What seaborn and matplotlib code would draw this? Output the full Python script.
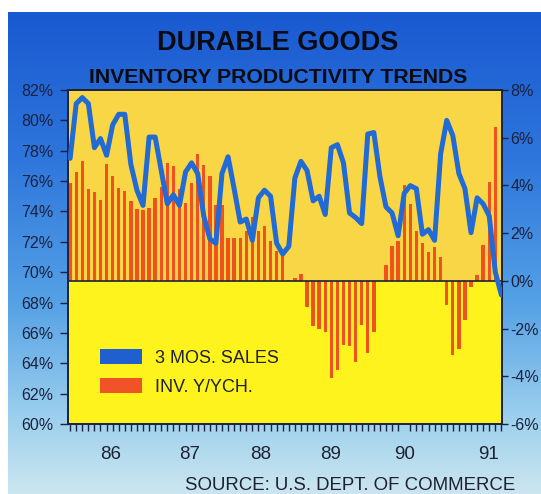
import numpy as np
import pandas as pd
import matplotlib
matplotlib.use("Agg")
import matplotlib.pyplot as plt
from matplotlib.patches import Patch
import seaborn as sns

# ---------------- data ----------------
months = list(range(72))
inv_yoy = [4.09, 4.55, 5.04, 3.87, 3.73, 3.39, 4.91, 4.39, 3.88, 3.75,
           3.33, 3.03, 2.95, 3.05, 3.48, 3.94, 4.95, 4.83, 3.85, 3.26,
           4.09, 5.32, 4.85, 4.38, 3.18, 3.17, 1.80, 1.80, 1.80, 2.10,
           2.69, 2.09, 2.30, 1.69, 1.27, 1.10, 0.05, 0.10, 0.28, -1.08,
           -1.91, -2.01, -2.13, -4.07, -3.73, -2.69, -2.72, -3.42, -1.86, -3.04,
           -2.15, 0.00, 0.68, 1.45, 1.66, 4.00, 3.21, 2.08, 1.58, 1.23,
           1.43, 0.98, -1.00, -3.10, -2.85, -1.63, -0.24, 0.24, 1.49, 4.15,
           6.45]
sales_3mo = [77.5, 81.1, 81.5, 81.1, 78.2, 78.8, 77.7, 79.7, 80.4, 80.4,
             77.1, 75.4, 74.4, 78.9, 78.9, 76.7, 74.5, 75.1, 74.4, 76.6,
             77.2, 76.5, 73.7, 72.2, 71.9, 76.5, 77.6, 75.5, 73.3, 73.5,
             72.1, 74.9, 75.4, 75.0, 71.9, 71.2, 71.7, 76.2, 77.3, 76.7,
             74.7, 75.0, 73.8, 78.2, 78.4, 77.2, 73.9, 73.6, 73.2, 79.1,
             79.2, 76.3, 74.3, 73.9, 72.4, 75.2, 75.7, 75.5, 72.5, 72.8,
             72.1, 77.8, 80.0, 79.0, 76.5, 75.5, 72.6, 74.9, 74.5, 73.7,
             70.0, 68.5]
left_ticks = [60, 62, 64, 66, 68, 70, 72, 74, 76, 78, 80, 82]
left_labels = ["60%", "62%", "64%", "66%", "68%", "70%", "72%", "74%",
               "76%", "78%", "80%", "82%"]
right_ticks = [-6, -4, -2, 0, 2, 4, 6, 8]
right_labels = ["-6%", "-4%", "-2%", "0%", "2%", "4%", "6%", "8%"]
year_pos = [6.7, 19.6, 31.4, 42.9, 55.0, 68.8]
year_labels = ["86", "87", "88", "89", "90", "91"]
title = "DURABLE GOODS"
subtitle = "INVENTORY PRODUCTIVITY TRENDS"
source = "SOURCE: U.S. DEPT. OF COMMERCE"
legend_labels = ["3 MOS. SALES", "INV. Y/YCH."]

bars_df = pd.DataFrame({"month": months[:len(inv_yoy)], "inv": inv_yoy})
line_df = pd.DataFrame({"month": months, "sales": sales_3mo})

# ---------------- style ----------------
sns.set_theme(style="white")
plt.rcParams["font.family"] = ["Liberation Sans", "DejaVu Sans"]

BLUE_LINE = "#226ad4"
RED_BAR = "#f0521e"
GOLD = "#f9d645"
LEMON = "#fff31e"
DARK = "#1b2140"

W, H = 541, 494
fig = plt.figure(figsize=(W / 100, H / 100), dpi=100)
fig.patch.set_facecolor("white")

# gradient panel
bg = fig.add_axes([8 / W, 0, 1 - 8 / W, 1 - 12 / H], zorder=-10)
stops_y = np.array([0.0, 0.3, 0.6, 0.85, 1.0])
stops_c = np.array([[0.10, 0.35, 0.82],
                    [0.18, 0.46, 0.86],
                    [0.33, 0.63, 0.90],
                    [0.62, 0.82, 0.93],
                    [0.80, 0.90, 0.94]])
t = np.linspace(0, 1, 300)
grad = np.stack([np.interp(t, stops_y, stops_c[:, k]) for k in range(3)], axis=-1)
bg.imshow(grad[:, None, :], aspect="auto", extent=[0, 1, 0, 1], origin="upper")
bg.set_axis_off()

# main axes (bars, right scale)
ax_l, ax_r = 68 / W, 502 / W
ax_b, ax_t = 1 - 424 / H, 1 - 90 / H
ax = fig.add_axes([ax_l, ax_b, ax_r - ax_l, ax_t - ax_b])
ax.set_facecolor(LEMON)
ax.axhspan(0, 8, color=GOLD, zorder=0, lw=0)
ax.axhspan(-6, 0, color=LEMON, zorder=0, lw=0)

sns.barplot(data=bars_df, x="month", y="inv", native_scale=True, width=0.55,
            color=RED_BAR, saturation=1, errorbar=None, ax=ax, zorder=2,
            linewidth=0, edgecolor="none")
ax.axhline(0, color=DARK, lw=1.2, zorder=3)
ax.set_ylim(-6, 8)
ax.set_xlim(-0.35, 71.1)

ax2 = ax.twinx()
sns.lineplot(data=line_df, x="month", y="sales", color=BLUE_LINE, lw=3.6,
             ax=ax2, zorder=4)
ax2.set_ylim(60, 82)
ax2.set_xlim(-0.35, 71.1)

ax.yaxis.tick_right()
ax2.yaxis.tick_left()
ax.set_yticks(right_ticks)
ax.set_yticklabels(right_labels)
ax2.set_yticks(left_ticks)
ax2.set_yticklabels(left_labels)
for a in (ax, ax2):
    a.set_xlabel("")
    a.set_ylabel("")
    for s in a.spines.values():
        s.set_color(DARK)
        s.set_linewidth(1.2)

ax.tick_params(axis="y", which="major", direction="out", length=4.5, width=1,
               color=DARK, pad=1.5, labelsize=11.5, labelcolor=DARK,
               right=True, left=False, labelright=True, labelleft=False)
ax2.tick_params(axis="y", which="major", direction="out", length=5.8, width=1,
                color=DARK, pad=5, labelsize=11.5, labelcolor=DARK,
                left=True, right=False, labelleft=True, labelright=False)

ax.set_xticks(year_pos)
ax.set_xticklabels(year_labels)
ax.set_xticks(months, minor=True)
ax.tick_params(axis="x", which="major", length=0, pad=15.5, labelsize=13.5,
               labelcolor="#1e2230")
ax.tick_params(axis="x", which="minor", direction="out", length=5, width=1,
               color=DARK, bottom=True)

# legend
handles = [Patch(facecolor="#1f5fd0", edgecolor="none"),
           Patch(facecolor="#f05328", edgecolor="none")]
leg = ax2.legend(handles, legend_labels, loc="upper left",
                 bbox_to_anchor=(100 / W, 1 - 349 / H),
                 bbox_transform=fig.transFigure, frameon=False,
                 fontsize=13, handlelength=2.35, handleheight=0.9,
                 handletextpad=0.7, labelspacing=0.62, borderpad=0,
                 borderaxespad=0)
for txt in leg.get_texts():
    txt.set_color("#1e2230")

# titles & source
fig.text(278 / W, 1 - 50 / H, title, ha="center", va="baseline",
         fontsize=19.5, fontweight="bold", color="#0b0b14")
fig.text(278 / W, 1 - 82.5 / H, subtitle, ha="center", va="baseline",
         fontsize=15.3, fontweight="bold", color="#0b0b14")
fig.text(350 / W, 1 - 490 / H, source, ha="center", va="baseline",
         fontsize=13.4, color="#1e2230")

fig.savefig("out.png", dpi=100)
